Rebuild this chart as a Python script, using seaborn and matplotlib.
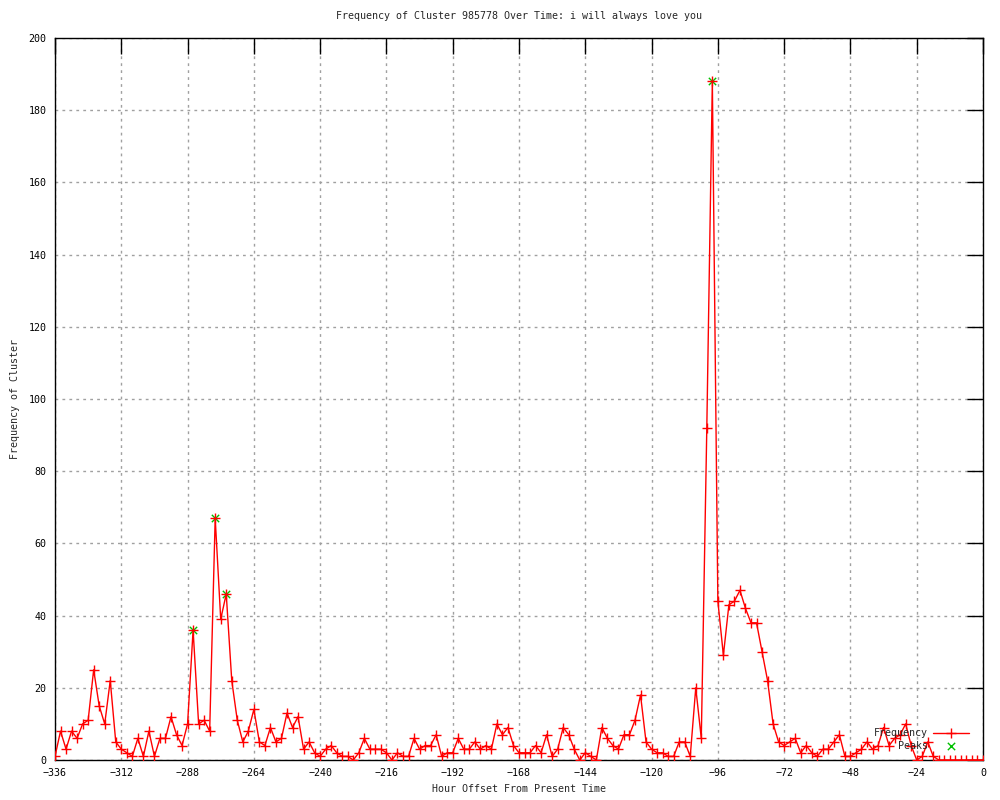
import matplotlib
matplotlib.use('Agg')
import matplotlib.pyplot as plt
import seaborn as sns
import pandas as pd

# hourly offsets (every 2 hours) and frequencies
hours = list(range(-336, 1, 2))
freq = [
    1, 8, 3, 8, 6, 10, 11, 25, 15, 10,
    22, 5, 3, 2, 1, 6, 1, 8, 1, 6,
    6, 12, 7, 4, 10, 36, 10, 11, 8, 67,
    39, 46, 22, 11, 5, 8, 14, 5, 4, 9,
    5, 6, 13, 9, 12, 3, 5, 2, 1, 3,
    4, 2, 1, 1, 0, 2, 6, 3, 3, 3,
    2, 0, 2, 1, 1, 6, 3, 4, 4, 7,
    1, 2, 2, 6, 3, 3, 5, 3, 4, 3,
    10, 7, 9, 4, 2, 2, 2, 4, 2, 7,
    1, 3, 9, 7, 3, 0, 2, 1, 0, 9,
    6, 4, 3, 7, 7, 11, 18, 5, 3, 2,
    2, 1, 1, 5, 5, 1, 20, 6, 92, 188,
    44, 29, 43, 44, 47, 42, 38, 38, 30, 22,
    10, 5, 4, 5, 6, 2, 4, 2, 1, 3,
    3, 5, 7, 1, 1, 2, 3, 5, 3, 4,
    9, 4, 6, 7, 10, 4, 0, 1, 5, 1,
    0, 0, 0, 0, 0, 0, 0, 0, 0,
]
peak_hours = [-286, -278, -274, -98]
peak_freq = [36, 67, 46, 188]

xticks = list(range(-336, 1, 24))
yticks = list(range(0, 201, 20))

df = pd.DataFrame({'hour': hours, 'freq': freq})
peaks = pd.DataFrame({'hour': peak_hours, 'freq': peak_freq})

sns.set_style('white')
plt.rcParams['font.family'] = ['DejaVu Sans Mono']

fig = plt.figure(figsize=(10, 8), dpi=100)
ax = fig.add_axes([0.055, 0.05, 0.928, 0.9025])

fs = 7.2
sns.scatterplot(data=peaks, x='hour', y='freq', marker='x', color='#00c000',
                s=28, linewidth=1, ax=ax, zorder=2, label='Peaks')
sns.lineplot(data=df, x='hour', y='freq', color='red', linewidth=1,
             marker='+', markersize=6.5, markeredgewidth=1, markeredgecolor='red',
             ax=ax, zorder=3, label='Frequency')

ax.set_xlim(-336, 0)
ax.set_ylim(0, 200)
ax.set_xticks(xticks)
ax.set_yticks(yticks)
ax.tick_params(direction='in', length=11.5, width=1, top=True, right=True,
               labelsize=fs, colors='black', pad=6)
ax.grid(True, linestyle=(0, (2, 3)), color='#a0a0a0', linewidth=1)
for sp in ax.spines.values():
    sp.set_color('black')
    sp.set_linewidth(1)

ax.set_title('Frequency of Cluster 985778 Over Time: i will always love you',
             fontsize=fs, pad=14)
ax.set_xlabel('Hour Offset From Present Time', fontsize=fs, labelpad=4)
ax.set_ylabel('Frequency of Cluster', fontsize=fs, labelpad=6)

h, l = ax.get_legend_handles_labels()
order = [l.index('Frequency'), l.index('Peaks')]
ax.legend([h[i] for i in order], [l[i] for i in order], loc='lower right',
          bbox_to_anchor=(0.995, 0.0), frameon=False, fontsize=fs,
          markerfirst=False, handlelength=3.6, handletextpad=0.5,
          labelspacing=0.3)

fig.savefig('out.png', dpi=100)
